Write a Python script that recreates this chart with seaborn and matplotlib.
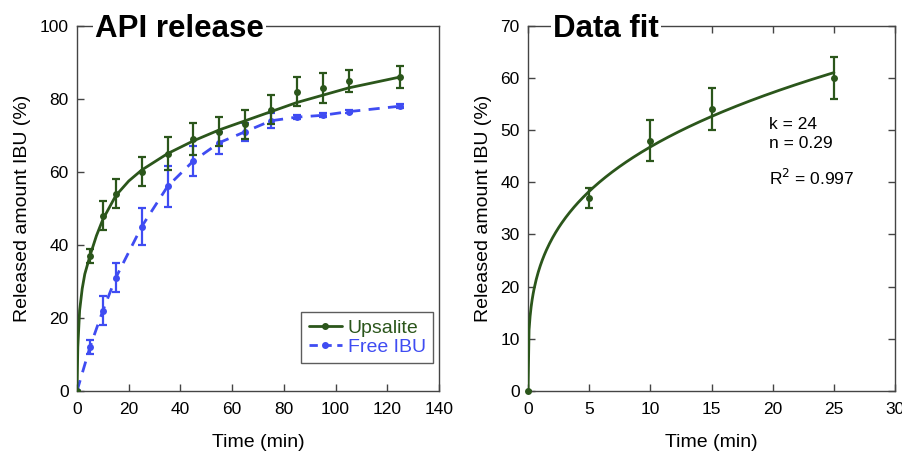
import numpy as np
import pandas as pd
import matplotlib
matplotlib.use("Agg")
import matplotlib.pyplot as plt
from matplotlib.lines import Line2D
import seaborn as sns

# --- data ---
time_pts = [0, 5, 10, 15, 25, 35, 45, 55, 65, 75, 85, 95, 105, 125]
upsalite = [0, 37, 48, 54, 60, 65, 69, 71, 73, 77, 82, 83, 85, 86]
upsalite_err = [0, 2, 4, 4, 4, 4.5, 4.5, 4, 4, 4, 4, 4, 3, 3]
free_ibu = [0, 12, 22, 31, 45, 56, 63, 68, 71, 74, 75, 75.5, 76.5, 78]
free_ibu_err = [0, 2, 4, 4, 5, 5.5, 4, 3, 2.5, 2, 0.5, 0.5, 0.5, 0.5]

# smooth fit line for Upsalite
fit_time = [0, 0.3, 1, 2, 3, 5, 7.5, 10, 15, 20, 25, 35, 45, 55, 65, 75, 85, 95, 105, 115, 125]
fit_upsalite = [0, 12, 22, 28, 32, 37, 42.5, 47, 53.5, 57.5, 60.5, 65, 68.5, 71.5, 74, 76.5, 79, 81, 83, 84.5, 86]

# right panel: first 25 min + power-law fit parameters
fit_pts_time = [0, 5, 10, 15, 25]
fit_pts_val = [0, 37, 48, 54, 60]
fit_pts_err = [0, 2, 4, 4, 4]
k_fit = 24
n_fit = 0.29
r2_fit = 0.997

green = "#2b561b"
blue = "#3f4cf2"

sns.set_style("white")
plt.rcParams["font.family"] = ["Liberation Sans", "DejaVu Sans"]
plt.rcParams["xtick.direction"] = "in"
plt.rcParams["ytick.direction"] = "in"
plt.rcParams["text.color"] = "black"
plt.rcParams["axes.labelcolor"] = "black"
plt.rcParams["xtick.labelcolor"] = "black"
plt.rcParams["ytick.labelcolor"] = "black"

fig = plt.figure(figsize=(9.02, 4.54), dpi=100)
ax1 = fig.add_axes([0.0854, 0.139, 0.4013, 0.804])
ax2 = fig.add_axes([0.5854, 0.139, 0.4070, 0.804])

df = pd.DataFrame({"t": time_pts, "ups": upsalite, "ups_err": upsalite_err,
                   "free": free_ibu, "free_err": free_ibu_err})
fit_df = pd.DataFrame({"t": fit_time, "ups": fit_upsalite})

# --- left panel ---
ax1.errorbar(df["t"], df["free"], yerr=df["free_err"], fmt="none",
             ecolor=blue, elinewidth=1.6, capsize=3, capthick=1.6, zorder=2)
sns.lineplot(data=df, x="t", y="free", ax=ax1, color=blue, lw=2,
             linestyle=(0, (4, 3)), marker="o", markersize=5,
             markeredgewidth=0, zorder=3)
ax1.errorbar(df["t"], df["ups"], yerr=df["ups_err"], fmt="none",
             ecolor=green, elinewidth=1.6, capsize=3, capthick=1.6, zorder=4)
sns.lineplot(data=fit_df, x="t", y="ups", ax=ax1, color=green, lw=2, zorder=5)
sns.scatterplot(data=df, x="t", y="ups", ax=ax1, color=green, s=25,
                linewidth=0, zorder=6)

ax1.set_xlim(0, 140)
ax1.set_ylim(0, 100)
ax1.set_xticks(range(0, 141, 20))
ax1.set_yticks(range(0, 101, 20))
ax1.tick_params(bottom=True, left=True)
ax1.set_xlabel("Time (min)", fontsize=14, labelpad=12)
ax1.set_ylabel("Released amount IBU (%)", fontsize=14, labelpad=6)

handles = [Line2D([0], [0], color=green, lw=2, marker="o", markersize=4),
           Line2D([0], [0], color=blue, lw=2, linestyle=(0, (3, 2)),
                  marker="o", markersize=4)]
leg = ax1.legend(handles, ["Upsalite", "Free IBU"], loc="lower right",
                 bbox_to_anchor=(0.995, 0.065), fontsize=14, frameon=True,
                 fancybox=False, edgecolor="#333333", handlelength=1.7,
                 handletextpad=0.3, borderpad=0.4, labelspacing=0.05,
                 borderaxespad=0.2)
leg.get_frame().set_linewidth(1.0)
for txt, c in zip(leg.get_texts(), [green, blue]):
    txt.set_color(c)

ax1.text(0.05, 0.97, "API release", transform=ax1.transAxes, fontsize=22.5,
         fontweight="bold", va="baseline", ha="left",
         bbox=dict(facecolor="white", edgecolor="none", pad=1.5), zorder=10)

# --- right panel ---
t_curve = np.linspace(0, 25, 300)
curve_df = pd.DataFrame({"t": t_curve, "fit": k_fit * t_curve ** n_fit})
ax2.errorbar(fit_pts_time, fit_pts_val, yerr=fit_pts_err, fmt="none",
             ecolor=green, elinewidth=1.6, capsize=3, capthick=1.6, zorder=2)
sns.lineplot(data=curve_df, x="t", y="fit", ax=ax2, color=green, lw=2, zorder=3)
sns.scatterplot(x=fit_pts_time, y=fit_pts_val, ax=ax2, color=green, s=25,
                linewidth=0, zorder=4, clip_on=False)

ax2.set_xlim(0, 30)
ax2.set_ylim(0, 70)
ax2.set_xticks(range(0, 31, 5))
ax2.set_yticks(range(0, 71, 10))
ax2.tick_params(top=True, right=True, bottom=True, left=True)
ax2.set_xlabel("Time (min)", fontsize=14, labelpad=12)
ax2.set_ylabel("Released amount IBU (%)", fontsize=14, labelpad=6)

ax2.text(19.7, 50.2, f"k = {k_fit}", fontsize=12.5, va="baseline")
ax2.text(19.7, 46.6, f"n = {n_fit}", fontsize=12.5, va="baseline")
ax2.text(19.7, 39.5, f"R$^2$ = {r2_fit}", fontsize=12.5, va="baseline")

ax2.text(0.068, 0.97, "Data fit", transform=ax2.transAxes, fontsize=22.5,
         fontweight="bold", va="baseline", ha="left",
         bbox=dict(facecolor="white", edgecolor="none", pad=1.5), zorder=10)

for ax in (ax1, ax2):
    ax.tick_params(labelsize=12.5, length=5, width=1, color="#444444", pad=6)
    ax.tick_params(axis="x", pad=8)
    for sp in ax.spines.values():
        sp.set_visible(True)
        sp.set_color("#444444")
        sp.set_linewidth(1.0)

fig.savefig("out.png", dpi=100)
